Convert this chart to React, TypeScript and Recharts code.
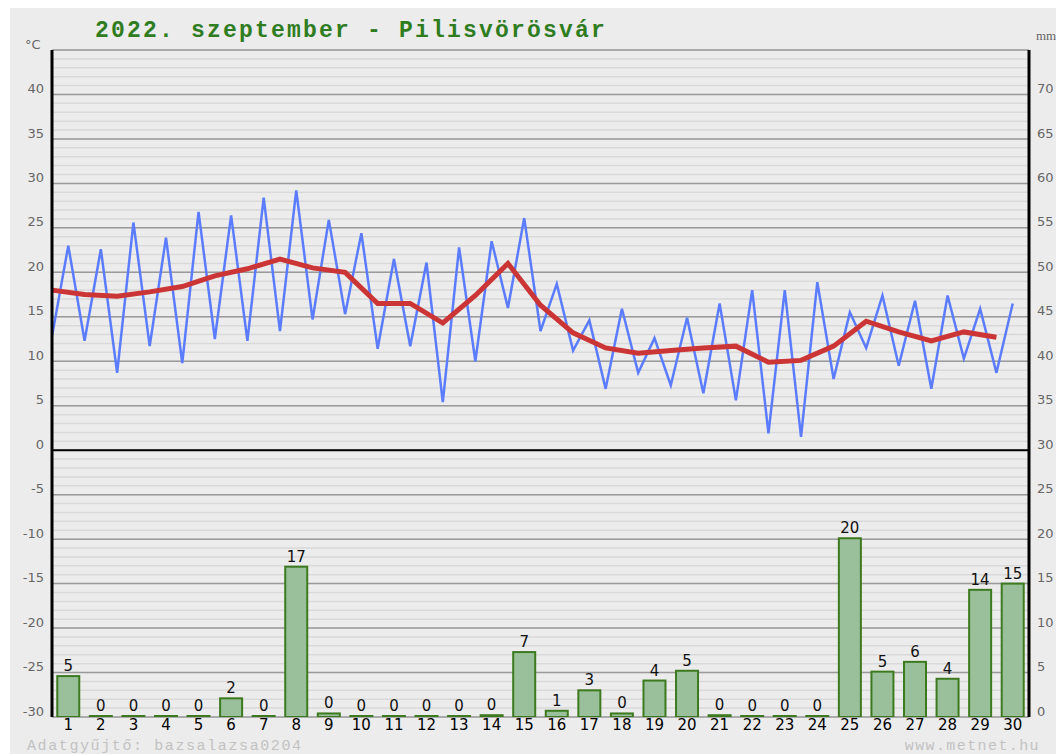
import { Bar, CartesianGrid, ComposedChart, LabelList, Line, ReferenceLine, XAxis, YAxis } from "recharts";

const days = [1, 2, 3, 4, 5, 6, 7, 8, 9, 10, 11, 12, 13, 14, 15, 16, 17, 18, 19, 20, 21, 22, 23, 24, 25, 26, 27, 28, 29, 30];
// daily min / max / mean temperature (°C), rain (mm)
const tMin = [12.8, 12.3, 8.7, 11.7, 9.8, 12.5, 12.3, 13.4, 14.7, 15.3, 11.4, 11.7, 5.4, 10.0, 16.0, 13.4, 11.2, 6.9, 8.7, 7.3, 6.4, 5.6, 1.9, 1.5, 8.0, 11.5, 9.5, 6.9, 10.3, 8.7];
const tMax = [23.0, 22.6, 25.6, 23.9, 26.8, 26.4, 28.4, 29.2, 25.9, 24.4, 21.5, 21.1, 22.8, 23.5, 26.1, 18.7, 14.6, 15.9, 12.6, 14.9, 16.5, 18.0, 18.0, 18.9, 15.5, 17.4, 16.8, 17.4, 15.9, 16.5];
const tMean = [18.0, 17.5, 17.3, 17.8, 18.4, 19.6, 20.4, 21.5, 20.5, 20.0, 16.5, 16.5, 14.3, 17.4, 21.0, 16.3, 13.2, 11.5, 10.9, 11.2, 11.5, 11.7, 9.9, 10.1, 11.7, 14.5, 13.3, 12.3, 13.3, 12.7];
const rain = [4.6, 0, 0, 0, 0, 2.1, 0, 16.9, 0.4, 0, 0, 0, 0, 0.2, 7.3, 0.7, 3.0, 0.4, 4.1, 5.2, 0.2, 0, 0, 0, 20.1, 5.1, 6.2, 4.3, 14.3, 15.0];

const tempTicks = [-30, -25, -20, -15, -10, -5, 0, 5, 10, 15, 20, 25, 30, 35, 40];
const gridMajor = [...tempTicks, 45];
const mmTicks = [0, 5, 10, 15, 20, 25, 30, 35, 40, 45, 50, 55, 60, 65, 70];
const gridMinor = Array.from({ length: 76 }, (_, i) => i - 30);

// min at start of the day, max at the middle, mean at start
const rows = days.flatMap((d, i) => [
  { x: d - 1, temp: tMin[i], mean: tMean[i] },
  { x: d - 0.5, temp: tMax[i], rain: rain[i] },
]);

const W = 1046;
const H = 746;
const BG = "#ececec";
const BAR_W = 22;

const axisTick = { fill: "#666", fontSize: 13, fontFamily: "DejaVu Sans", dy: -6 };

function RainBar(p: any) {
  if (p.height == null || isNaN(p.height)) return null;
  return (
    <rect
      x={p.x + p.width / 2 - BAR_W / 2}
      y={p.y}
      width={BAR_W}
      height={p.height}
      fill="#99c09b"
      stroke="#3d7a1f"
      strokeWidth={2}
    />
  );
}

export default function App() {
  return (
    <div style={{ position: "absolute", left: 10, top: 8, width: W, height: H, background: BG }}>
      <style>{"body{margin:0;overflow:hidden;background:#fff}"}</style>
      <ComposedChart width={W} height={H} data={rows} margin={{ top: 42, right: 0, bottom: 0, left: 0 }}>
        <CartesianGrid yAxisId="t" vertical={false} horizontalValues={gridMinor} stroke="#d9d9d9" strokeWidth={1.5} />
        <CartesianGrid yAxisId="t" vertical={false} horizontalValues={gridMajor} stroke="#9a9a9a" strokeWidth={1.5} />
        <XAxis
          dataKey="x"
          type="number"
          domain={[0, 30]}
          ticks={days.map((d) => d - 0.5)}
          tickFormatter={(v) => String(v + 0.5)}
          interval={0}
          height={37}
          axisLine={false}
          tickLine={false}
          tickSize={0}
          tickMargin={2}
          tick={{ fill: "#000", fontSize: 15, fontFamily: "DejaVu Sans" }}
        />
        <YAxis
          yAxisId="t"
          orientation="left"
          width={42}
          domain={[-30, 45]}
          ticks={tempTicks}
          interval={0}
          allowDataOverflow
          axisLine={{ stroke: "#000", strokeWidth: 3 }}
          tickLine={false}
          tick={axisTick}
        />
        <YAxis
          yAxisId="mm"
          orientation="right"
          width={27}
          domain={[0, 75]}
          ticks={mmTicks}
          interval={0}
          allowDataOverflow
          axisLine={{ stroke: "#000", strokeWidth: 3 }}
          tickLine={false}
          tick={axisTick}
        />
        <ReferenceLine yAxisId="t" y={0} stroke="#000" strokeWidth={2} />
        <Bar
          yAxisId="mm"
          dataKey="rain"
          shape={RainBar}
          minPointSize={(v) => (v == null ? 0 : 1)}
          isAnimationActive={false}
        >
          <LabelList
            dataKey="rain"
            position="top"
            offset={5}
            formatter={(v) => (v == null ? "" : String(Math.round(Number(v))))}
            style={{ fill: "#111", fontSize: 15, fontFamily: "DejaVu Sans" }}
          />
        </Bar>
        <Line yAxisId="t" dataKey="temp" type="linear" stroke="#5b7cff" strokeWidth={2.5} dot={false} isAnimationActive={false} />
        <Line yAxisId="t" dataKey="mean" type="linear" stroke="#cc3535" strokeWidth={5} dot={false} connectNulls isAnimationActive={false} />
      </ComposedChart>
      <svg width={W} height={H} style={{ position: "absolute", left: 0, top: 0, pointerEvents: "none" }}>
        <text x={85} y={29} fill="#2f7d1f" fontSize={23} fontWeight="bold" fontFamily="Liberation Mono" letterSpacing={2.2}>
          2022. szeptember - Pilisvörösvár
        </text>
        <text x={15} y={41} fill="#666" fontSize={13} fontFamily="DejaVu Sans">°C</text>
        <text x={1026} y={32} fill="#666" fontSize={13} fontFamily="Liberation Serif">mm</text>
        <text x={17} y={742} fill="#c2c2c2" fontSize={15} fontFamily="Liberation Mono" letterSpacing={1.6}>
          Adatgyűjtő: bazsalazsa0204
        </text>
        <text x={1030} y={742} textAnchor="end" fill="#c2c2c2" fontSize={15} fontFamily="Liberation Mono" letterSpacing={1.4}>
          www.metnet.hu
        </text>
      </svg>
    </div>
  );
}
